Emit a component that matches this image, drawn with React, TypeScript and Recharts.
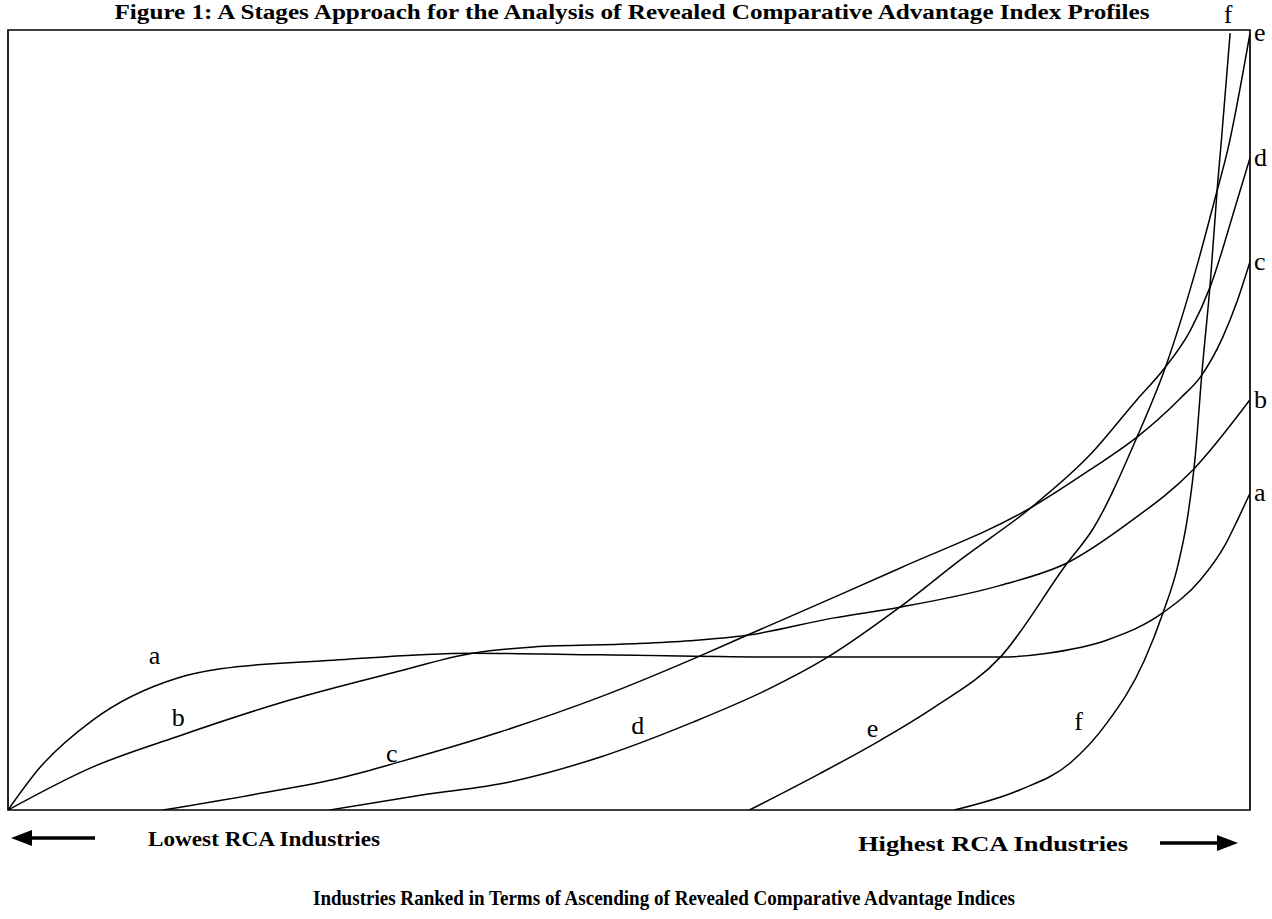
import React from 'react';
import { LineChart, Line, XAxis, YAxis, ReferenceArea, ReferenceDot, LabelList } from 'recharts';

// x = industry rank (0 = lowest RCA, 100 = highest), y = RCA index (arbitrary units)
const aRank = [0, 2.6, 6.8, 13.6, 17.1, 26.2, 37.4, 47.7, 63.8, 79.9, 83.7, 88.5, 93.0, 96.0, 98.0, 99.0, 100];
const aRca = [0, 5.5, 11.5, 16.9, 18.1, 19.2, 20.1, 19.9, 19.6, 19.6, 20.1, 21.8, 25.3, 29.5, 34.0, 37.2, 40.6];

const bRank = [0, 6.8, 13.6, 22.7, 31.0, 37.4, 42.3, 50.3, 54.9, 59.5, 66.4, 71.8, 79.9, 85.3, 90.3, 95.4, 100];
const bRca = [0, 5.5, 9.4, 14.1, 17.6, 20.1, 20.9, 21.3, 21.7, 22.4, 24.6, 26.0, 28.8, 31.7, 36.9, 43.6, 52.6];

const cRank = [12.5, 19.5, 27.0, 31.6, 39.6, 47.7, 55.5, 59.5, 66.4, 71.8, 82.4, 87.1, 90.9, 94.4, 96.0, 97.8, 99.0, 100];
const cRca = [0, 1.9, 4.2, 6.2, 10.0, 14.5, 19.6, 22.4, 27.2, 31.0, 38.8, 43.6, 47.8, 52.8, 55.5, 60.6, 65.4, 70.3];

const dRank = [25.9, 33.2, 40.4, 47.7, 55.2, 61.1, 65.9, 71.8, 76.7, 82.4, 87.1, 90.9, 93.0, 95.2, 96.8, 98.9, 100];
const dRca = [0, 1.9, 3.6, 6.8, 11.3, 15.4, 19.5, 26.0, 32.1, 38.8, 45.5, 52.6, 56.4, 61.5, 67.1, 77.8, 83.6];

const eRank = [59.7, 65.4, 70.3, 74.5, 79.9, 85.3, 87.3, 90.9, 93.2, 95.7, 97.3, 98.2, 100];
const eRca = [0, 4.7, 9.0, 13.1, 19.6, 31.7, 35.9, 47.8, 56.8, 69.6, 79.1, 84.6, 99.6];

const fRank = [76.2, 81.5, 85.5, 88.5, 91.5, 93.0, 94.2, 95.0, 95.6, 96.1, 96.8, 97.4, 97.7, 98.4];
const fRca = [0, 2.6, 6.0, 11.2, 19.2, 25.3, 31.4, 37.8, 45.5, 55.5, 67.6, 80.4, 85.9, 99.6];

const stages = ['a', 'b', 'c', 'd', 'e', 'f'];
const ranks = [aRank, bRank, cRank, dRank, eRank, fRank];
const values = [aRca, bRca, cRca, dRca, eRca, fRca];

// where the curve letters sit inside the box (data units)
const innerLabelRank = [11.8, 13.7, 30.9, 50.7, 69.6, 86.2];
const innerLabelRca = [19.9, 11.9, 7.3, 10.9, 10.5, 11.5];

const toPoints = (xs: number[], ys: number[]) => xs.map((x, i) => ({ x, y: ys[i] }));

const serif = "'Liberation Serif', 'Times New Roman', serif";

const endLabel = (name: string, last: number) => (props: any) => {
  if (props.index !== last) return null;
  const top = name === 'f';
  return (
    <text
      x={top ? props.x - 2 : props.x + 4}
      y={top ? props.y - 10 : props.y + 8}
      textAnchor={top ? 'middle' : 'start'}
      fontFamily={serif}
      fontSize={26}
      fill="#000"
    >
      {name}
    </text>
  );
};

export default function App() {
  return (
    <div style={{ position: 'fixed', left: 0, top: 0, width: 1272, height: 919, background: '#fff' }}>
      <LineChart width={1272} height={919} margin={{ top: 30, right: 22, bottom: 109, left: 8 }}>
        <XAxis type="number" dataKey="x" domain={[0, 100]} hide allowDataOverflow />
        <YAxis type="number" dataKey="y" domain={[0, 100]} hide allowDataOverflow />
        <ReferenceArea x1={0} x2={100} y1={0} y2={100} fill="none" stroke="#000" strokeWidth={1.7} />
        {stages.map((s, i) => (
          <Line
            key={s}
            data={toPoints(ranks[i], values[i])}
            dataKey="y"
            type="monotone"
            stroke="#000"
            strokeWidth={1.5}
            dot={false}
            activeDot={false}
            isAnimationActive={false}
          >
            <LabelList dataKey="y" content={endLabel(s, ranks[i].length - 1)} />
          </Line>
        ))}
        {stages.map((s, i) => (
          <ReferenceDot
            key={'lbl-' + s}
            x={innerLabelRank[i]}
            y={innerLabelRca[i]}
            r={0}
            fill="none"
            stroke="none"
            label={{ value: s, position: 'center', fontSize: 26, fill: '#000', fontFamily: serif }}
          />
        ))}
      </LineChart>
      <svg
        width={1272}
        height={919}
        style={{ position: 'absolute', left: 0, top: 0, pointerEvents: 'none' }}
      >
        <text x={632} y={19} textAnchor="middle" fontFamily={serif} fontWeight="bold" fontSize={21}
          textLength={1035} lengthAdjust="spacingAndGlyphs">
          Figure 1: A Stages Approach for the Analysis of Revealed Comparative Advantage Index Profiles
        </text>

        {/* left arrow */}
        <line x1={28} y1={838} x2={95} y2={838} stroke="#000" strokeWidth={3.5} />
        <polygon points="11,838 32,830 32,846" fill="#000" />
        <text x={148} y={846} fontFamily={serif} fontWeight="bold" fontSize={22}
          textLength={232} lengthAdjust="spacingAndGlyphs">
          Lowest RCA Industries
        </text>

        <text x={858} y={851} fontFamily={serif} fontWeight="bold" fontSize={22}
          textLength={270} lengthAdjust="spacingAndGlyphs">
          Highest RCA Industries
        </text>
        {/* right arrow */}
        <line x1={1160} y1={843} x2={1222} y2={843} stroke="#000" strokeWidth={3.5} />
        <polygon points="1238,843 1217,835 1217,851" fill="#000" />

        <text x={664} y={905} textAnchor="middle" fontFamily={serif} fontWeight="bold" fontSize={22}
          textLength={702} lengthAdjust="spacingAndGlyphs">
          Industries Ranked in Terms of Ascending of Revealed Comparative Advantage Indices
        </text>
      </svg>
    </div>
  );
}
